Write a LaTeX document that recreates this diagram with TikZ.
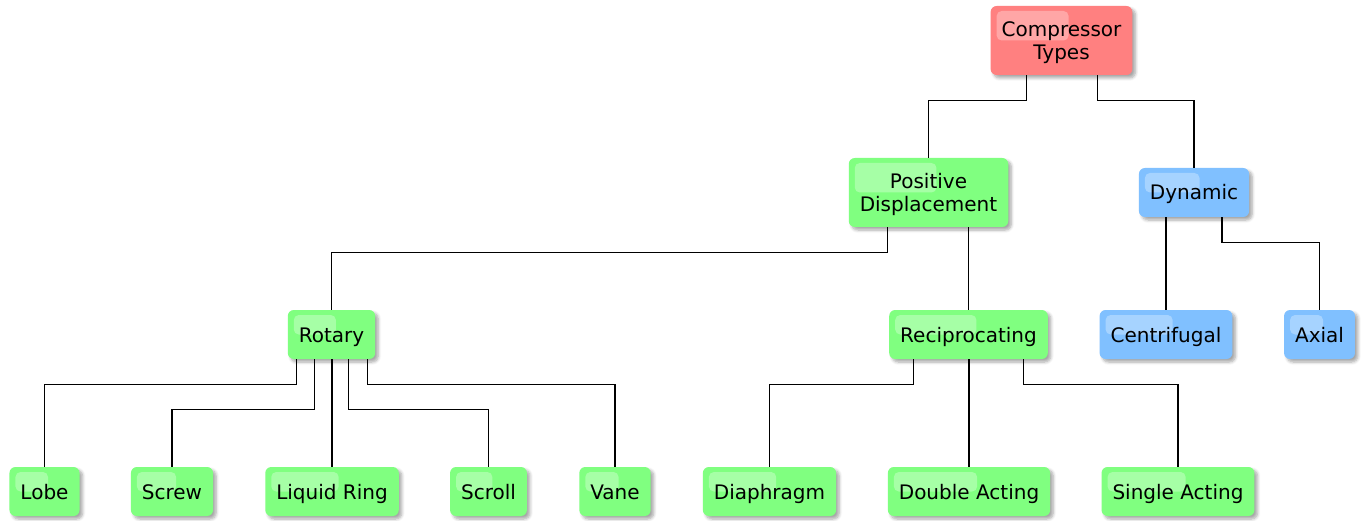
\documentclass[tikz,border=0pt]{standalone}
\usepackage{fontspec}
\setmainfont{DejaVu Sans}
\usetikzlibrary{shadows.blur,calc}
\definecolor{rootred}{HTML}{FF8080}
\definecolor{pdgreen}{HTML}{80FF80}
\definecolor{dynblue}{HTML}{80C0FF}

\begin{document}
\begin{tikzpicture}
  [x=1pt,y=-1pt,
  box/.style={rounded corners=6pt,inner xsep=11pt,inner ysep=13pt,
    minimum height=49pt,align=center,font=\fontsize{20}{23}\selectfont,
    text height=15pt,text depth=0pt,
    blur shadow={shadow xshift=3pt,shadow yshift=-3pt,shadow blur steps=6,
      shadow blur radius=3pt,shadow opacity=35},
    path picture={\fill[white,opacity=.3,rounded corners=5pt]
      ($(path picture bounding box.north west)+(6,5)$) rectangle
      ($(path picture bounding box.west)!.55!(path picture bounding box.east)$);}},
  twoline/.style={text height=38pt,minimum height=69pt},
  root/.style={box,fill=rootred},
  grn/.style={box,fill=pdgreen},
  blu/.style={box,fill=dynblue},
  link/.style={line width=1.2pt}]

  \useasboundingbox (0,0) rectangle (1365,521);

  \node[root,twoline] (ct) at (1061.5,40.5) {Compressor\\Types};

  \node[grn,twoline] (pd) at (928.5,192.5) {Positive\\Displacement};
  \node[blu] (dyn) at (1194,192.5) {Dynamic};

  \node[grn] (rot) at (331.5,334.5) {Rotary};
  \node[grn] (rec) at (968.5,334.5) {Reciprocating};
  \node[blu] (cen) at (1166,334.5) {Centrifugal};
  \node[blu] (ax) at (1319.5,334.5) {Axial};

  \node[grn] (lobe) at (44.5,491.5) {Lobe};
  \node[grn] (screw) at (172,491.5) {Screw};
  \node[grn] (lr) at (332,491.5) {Liquid Ring};
  \node[grn] (scroll) at (488.5,491.5) {Scroll};
  \node[grn] (vane) at (615,491.5) {Vane};
  \node[grn] (dia) at (769.5,491.5) {Diaphragm};
  \node[grn] (da) at (969,491.5) {Double Acting};
  \node[grn] (sa) at (1178,491.5) {Single Acting};

  \draw[link] ([xshift=-35pt]ct.south) -- ++(0,25) -| (pd.north);
  \draw[link] ([xshift=36pt]ct.south) -- ++(0,25) -| (dyn.north);

  \draw[link] ([xshift=-41pt]pd.south) -- ++(0,25) -| (rot.north);
  \draw[link] (pd.south -| rec.north) -- (rec.north);
  \draw[link] (dyn.south -| cen.north) -- (cen.north);
  \draw[link] ([xshift=28pt]dyn.south) -- ++(0,25) -| (ax.north);

  \draw[link] ([xshift=-35pt]rot.south) -- ++(0,25) -| (lobe.north);
  \draw[link] ([xshift=-17pt]rot.south) -- ++(0,50) -| (screw.north);
  \draw[link] (rot.south -| lr.north) -- (lr.north);
  \draw[link] ([xshift=17pt]rot.south) -- ++(0,50) -| (scroll.north);
  \draw[link] ([xshift=36pt]rot.south) -- ++(0,25) -| (vane.north);

  \draw[link] ([xshift=-55pt]rec.south) -- ++(0,25) -| (dia.north);
  \draw[link] (rec.south -| da.north) -- (da.north);
  \draw[link] ([xshift=55pt]rec.south) -- ++(0,25) -| (sa.north);

\end{tikzpicture}
\end{document}
